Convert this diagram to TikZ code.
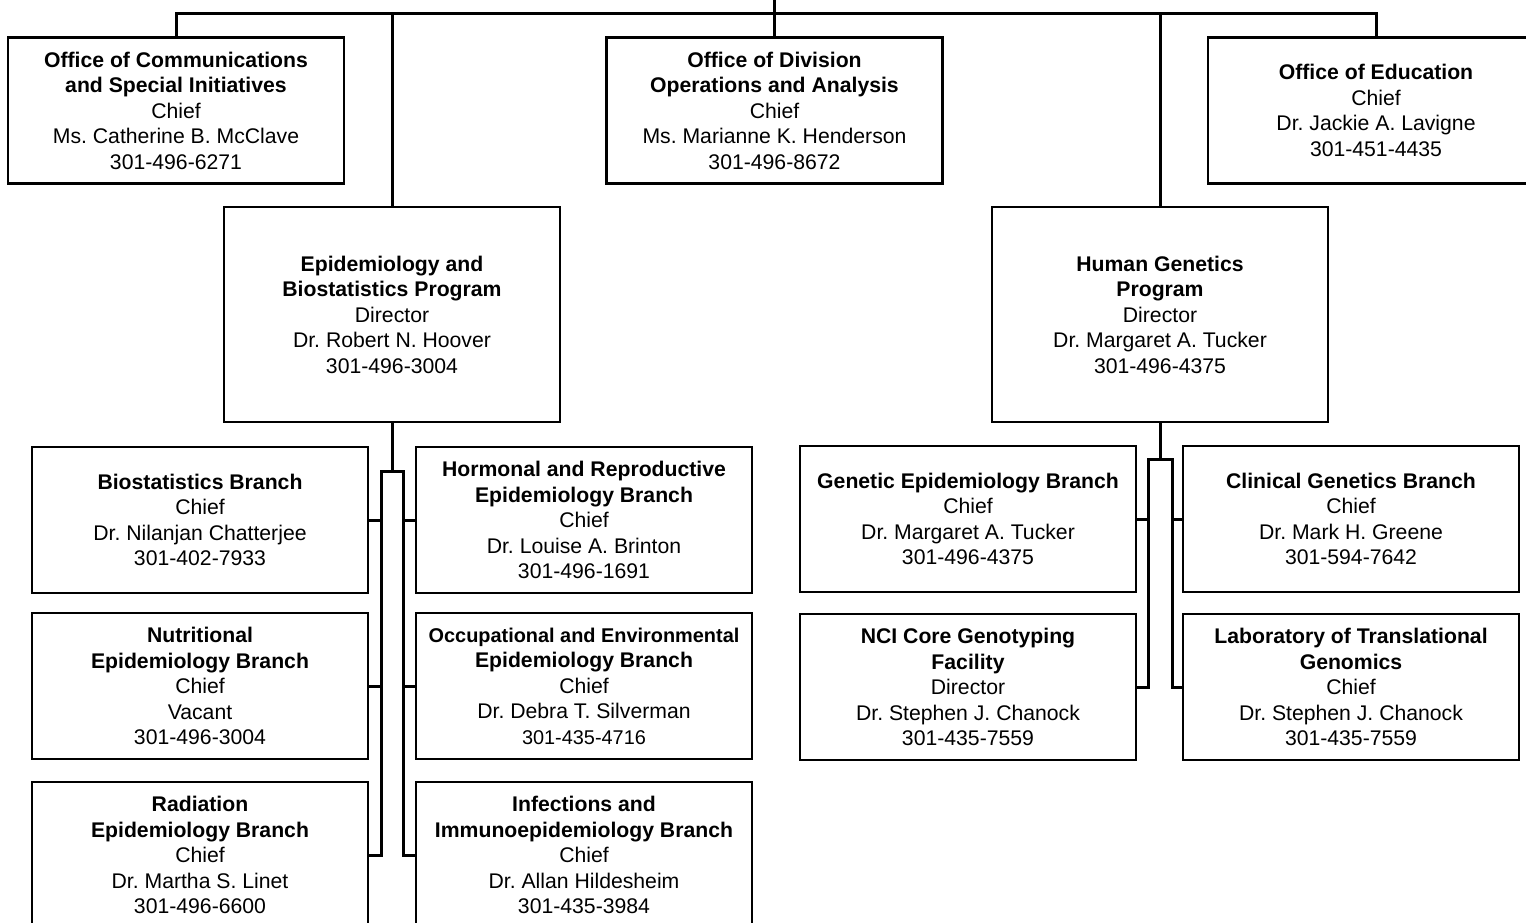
\documentclass[tikz,border=0pt]{standalone}
\usepackage{fontspec}
\setmainfont{Liberation Sans}
\begin{document}
\frenchspacing
\begin{tikzpicture}[x=1pt,y=-1pt,
  box/.style={draw, line width=2.2pt, minimum width=336pt, minimum height=146pt,
    inner sep=0pt, outer sep=0pt, align=center, font=\fontsize{21.2}{25.5}\selectfont\frenchspacing},
  tallbox/.style={box, minimum height=215pt},
  conn/.style={line width=3pt}]
\useasboundingbox (0,0) rectangle (1526,923);
\clip (0,0) rectangle (1526,923);

% top row
\node[box] (ocsi) at (176,110.5) {\textbf{Office of Communications}\\\textbf{and Special Initiatives}\\Chief\\Ms. Catherine B. McClave\\301-496-6271};
\node[box] (odoa) at (774.5,110.5) {\textbf{Office of Division}\\\textbf{Operations and Analysis}\\Chief\\Ms. Marianne K. Henderson\\301-496-8672};
\node[box] (oe) at (1376,110.5) {\textbf{Office of Education}\\Chief\\Dr. Jackie A. Lavigne\\301-451-4435};

% programs
\node[tallbox] (epi) at (392,314.5) {\textbf{Epidemiology and}\\\textbf{Biostatistics Program}\\Director\\Dr. Robert N. Hoover\\301-496-3004};
\node[tallbox] (hg) at (1160,314.5) {\textbf{Human Genetics}\\\textbf{Program}\\Director\\Dr. Margaret A. Tucker\\301-496-4375};

% epidemiology branches
\node[box] (bio) at (200,520) {\textbf{Biostatistics Branch}\\Chief\\Dr. Nilanjan Chatterjee\\301-402-7933};
\node[box] (nut) at (200,686) {\textbf{Nutritional}\\\textbf{Epidemiology Branch}\\Chief\\Vacant\\301-496-3004};
\node[box] (rad) at (200,855) {\textbf{Radiation}\\\textbf{Epidemiology Branch}\\Chief\\Dr. Martha S. Linet\\301-496-6600};
\node[box] (hor) at (584,520) {\textbf{Hormonal and Reproductive}\\\textbf{Epidemiology Branch}\\Chief\\Dr. Louise A. Brinton\\301-496-1691};
\node[box] (occ) at (584,686) {{\fontsize{19.9}{25.5}\selectfont\textbf{Occupational and Environmental}}\\\textbf{Epidemiology Branch}\\Chief\\Dr. Debra T. Silverman\\{\fontsize{19.9}{25.5}\selectfont 301-435-4716}};
\node[box] (inf) at (584,855) {\textbf{Infections and}\\\textbf{Immunoepidemiology Branch}\\Chief\\Dr. Allan Hildesheim\\301-435-3984};

% human genetics branches
\node[box] (gen) at (968,519) {\textbf{Genetic Epidemiology Branch}\\Chief\\Dr. Margaret A. Tucker\\301-496-4375};
\node[box] (nci) at (968,687) {\textbf{NCI Core Genotyping}\\\textbf{Facility}\\Director\\Dr. Stephen J. Chanock\\301-435-7559};
\node[box] (cli) at (1351,519) {\textbf{Clinical Genetics Branch}\\Chief\\Dr. Mark H. Greene\\301-594-7642};
\node[box] (lab) at (1351,687) {\textbf{Laboratory of Translational}\\\textbf{Genomics}\\Chief\\Dr. Stephen J. Chanock\\301-435-7559};

% top connectors
\coordinate (topin) at (774.5,0);
\coordinate (bar) at (774.5,14);
\draw[conn] (topin) -- (odoa.north);
\draw[conn] (ocsi.north) |- (bar) -| (oe.north);
\draw[conn] (epi.north) -- (epi.north |- bar);
\draw[conn] (hg.north) -- (hg.north |- bar);

% epidemiology bracket
\coordinate (ej) at (392,471);
\coordinate (ejl) at (381,471);
\coordinate (ejr) at (403,471);
\draw[conn] (epi.south) -- (ej);
\draw[conn] (ej) -- (ejl) |- (rad.east);
\draw[conn] (ej) -- (ejr) |- (inf.west);
\draw[conn] (bio.east) -- (bio.east -| ejl);
\draw[conn] (nut.east) -- (nut.east -| ejl);
\draw[conn] (hor.west) -- (hor.west -| ejr);
\draw[conn] (occ.west) -- (occ.west -| ejr);

% human genetics bracket
\coordinate (hj) at (1160,459);
\coordinate (hjl) at (1148,459);
\coordinate (hjr) at (1172,459);
\draw[conn] (hg.south) -- (hj);
\draw[conn] (hj) -- (hjl) |- (nci.east);
\draw[conn] (hj) -- (hjr) |- (lab.west);
\draw[conn] (gen.east) -- (gen.east -| hjl);
\draw[conn] (cli.west) -- (cli.west -| hjr);
\end{tikzpicture}
\end{document}
